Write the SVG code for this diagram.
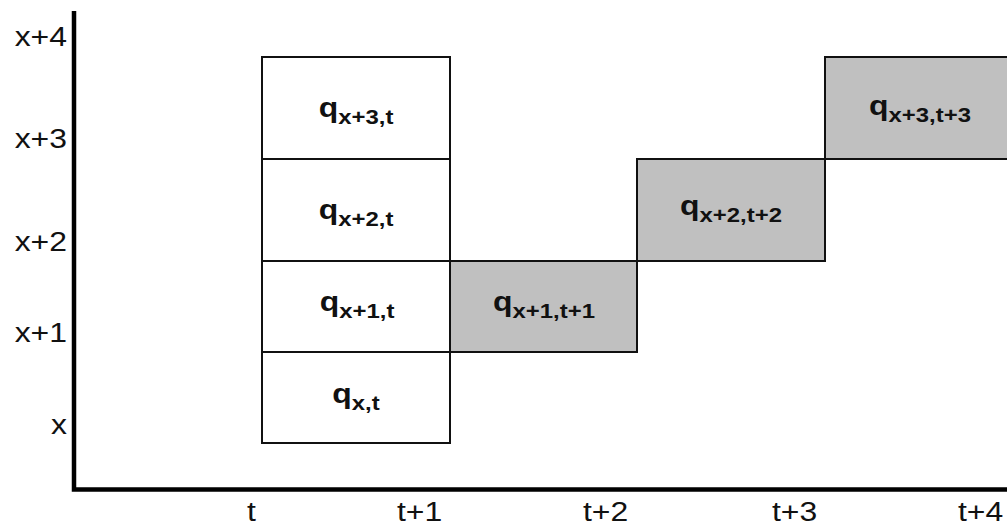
<svg xmlns="http://www.w3.org/2000/svg" width="1007" height="527" viewBox="0 0 1007 527">
<style>
.cell{fill:#fff;stroke:#111;stroke-width:2}
.shade{fill:#c0c0c0;stroke:#111;stroke-width:2}
.lbl{font-family:"Liberation Sans",Arial,sans-serif;font-size:28px;fill:#111}
.q{font-family:"Liberation Sans",Arial,sans-serif;font-weight:bold;fill:#111;text-anchor:middle}
.qq{font-size:28px}
.ss{font-size:21px}
.axis{stroke:#000;stroke-width:4.5;fill:none}
</style>
<rect width="1007" height="527" fill="#fff"/>
<g id="axes">
<path class="axis" d="M74,11 V489.5 H1007"/>
</g>
<g id="ylabels" class="lbl" text-anchor="end">
<text transform="translate(67,46) scale(1.14,1)">x+4</text>
<text transform="translate(67,148) scale(1.14,1)">x+3</text>
<text transform="translate(67,251) scale(1.14,1)">x+2</text>
<text transform="translate(67,342) scale(1.14,1)">x+1</text>
<text transform="translate(67,434) scale(1.14,1)">x</text>
</g>
<g id="xlabels" class="lbl">
<text transform="translate(247,521) scale(1.14,1)">t</text>
<text transform="translate(397,521) scale(1.14,1)">t+1</text>
<text transform="translate(583,521) scale(1.14,1)">t+2</text>
<text transform="translate(772,521) scale(1.14,1)">t+3</text>
<text transform="translate(958,521) scale(1.14,1)">t+4</text>
</g>
<g id="q_x3_t">
<rect class="cell" x="262" y="57" width="188" height="102"/>
<text class="q" transform="translate(356,117) scale(1.14,1)"><tspan class="qq">q</tspan><tspan class="ss" dy="7">x+3,t</tspan></text>
</g>
<g id="q_x2_t">
<rect class="cell" x="262" y="159" width="188" height="102"/>
<text class="q" transform="translate(356,219) scale(1.14,1)"><tspan class="qq">q</tspan><tspan class="ss" dy="7">x+2,t</tspan></text>
</g>
<g id="q_x1_t">
<rect class="cell" x="262" y="261" width="188" height="91"/>
<text class="q" transform="translate(357,311) scale(1.14,1)"><tspan class="qq">q</tspan><tspan class="ss" dy="7">x+1,t</tspan></text>
</g>
<g id="q_x_t">
<rect class="cell" x="262" y="352" width="188" height="91"/>
<text class="q" transform="translate(356,403) scale(1.14,1)"><tspan class="qq">q</tspan><tspan class="ss" dy="7">x,t</tspan></text>
</g>
<g id="q_x1_t1">
<rect class="shade" x="450" y="261" width="187" height="91"/>
<text class="q" transform="translate(544,311) scale(1.14,1)"><tspan class="qq">q</tspan><tspan class="ss" dy="7">x+1,t+1</tspan></text>
</g>
<g id="q_x2_t2">
<rect class="shade" x="637" y="159" width="188" height="102"/>
<text class="q" transform="translate(731,215) scale(1.14,1)"><tspan class="qq">q</tspan><tspan class="ss" dy="7">x+2,t+2</tspan></text>
</g>
<g id="q_x3_t3">
<rect class="shade" x="825" y="57" width="190" height="102"/>
<text class="q" transform="translate(920,115) scale(1.14,1)"><tspan class="qq">q</tspan><tspan class="ss" dy="7">x+3,t+3</tspan></text>
</g>
</svg>
